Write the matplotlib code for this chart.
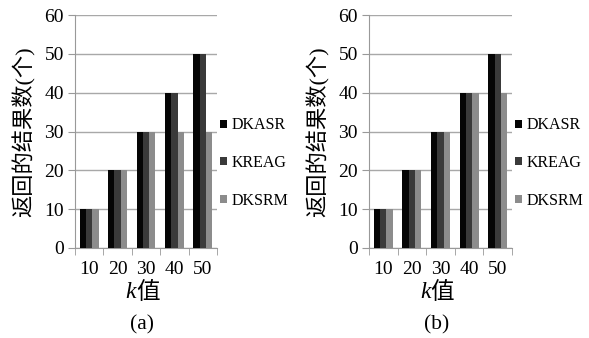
import matplotlib
matplotlib.use("Agg")
import matplotlib.pyplot as plt
import numpy as np

plt.rcParams['font.family'] = ['Liberation Serif', 'Noto Sans CJK SC']

k_values = ['10', '20', '30', '40', '50']
series_names = ['DKASR', 'KREAG', 'DKSRM']
colors = ['#050505', '#3a3a3a', '#8c8c8c']

# panel (a)
a_dkasr = [10, 20, 30, 40, 50]
a_kreag = [10, 20, 30, 40, 50]
a_dksrm = [10, 20, 30, 30, 30]

# panel (b)
b_dkasr = [10, 20, 30, 40, 50]
b_kreag = [10, 20, 30, 40, 50]
b_dksrm = [10, 20, 30, 40, 40]

W, H = 589, 338
fig = plt.figure(figsize=(W / 100, H / 100), dpi=100)


def draw_panel(left_px, right_px, data, caption):
    bottom_px, top_px = 248, 15
    width_px = right_px - left_px
    height_px = bottom_px - top_px
    ax = fig.add_axes([left_px / W, (H - bottom_px) / H,
                       width_px / W, height_px / H])
    x = np.arange(len(k_values))
    bw = 0.22
    for i, (vals, name, c) in enumerate(zip(data, series_names, colors)):
        ax.bar(x + (i - 1) * bw, vals, bw, color=c, label=name, zorder=3)
    ax.set_xlim(-0.5, len(k_values) - 0.5)
    ax.set_ylim(0, 60)
    ax.set_yticks(range(0, 61, 10))
    ax.set_xticks(x)
    ax.set_xticklabels(k_values)
    ax.set_xticks(np.arange(-0.5, len(k_values)), minor=True)
    ax.tick_params(axis='x', which='major', length=0, pad=9, labelsize=14)
    ax.tick_params(axis='x', which='minor', length=5, color='#999999', direction='out')
    ax.tick_params(axis='y', length=5, color='#999999', labelsize=14, pad=3)
    ax.grid(axis='y', color='#a8a8a8', linewidth=1, zorder=0)
    for s in ['top', 'right']:
        ax.spines[s].set_visible(False)
    for s in ['left', 'bottom']:
        ax.spines[s].set_color('#999999')
    ax.set_ylabel('返回的结果数(个)', fontsize=16, labelpad=6)

    # x label: italic k followed by 值
    xk = 0.5 - 10 / width_px
    ax.text(xk, -0.193, 'k', transform=ax.transAxes, ha='right', va='center',
            fontsize=17, style='italic', family='Liberation Serif')
    ax.text(xk, -0.193, '值', transform=ax.transAxes, ha='left', va='center',
            fontsize=17, family='Noto Sans CJK SC')

    ax.legend(loc='center left', bbox_to_anchor=(1.0 + 3 / width_px, 0.365),
              frameon=False, fontsize=11.5, handlelength=0.42, handleheight=0.42,
              handletextpad=0.28, labelspacing=1.35, borderaxespad=0.0,
              borderpad=0.0)
    ax.text(0.5 - 4 / width_px, -0.33, caption, transform=ax.transAxes,
            ha='center', va='center', fontsize=15.5)
    return ax


draw_panel(75, 217, [a_dkasr, a_kreag, a_dksrm], '(a)')
draw_panel(369, 512, [b_dkasr, b_kreag, b_dksrm], '(b)')

fig.savefig('out.png', dpi=100)
